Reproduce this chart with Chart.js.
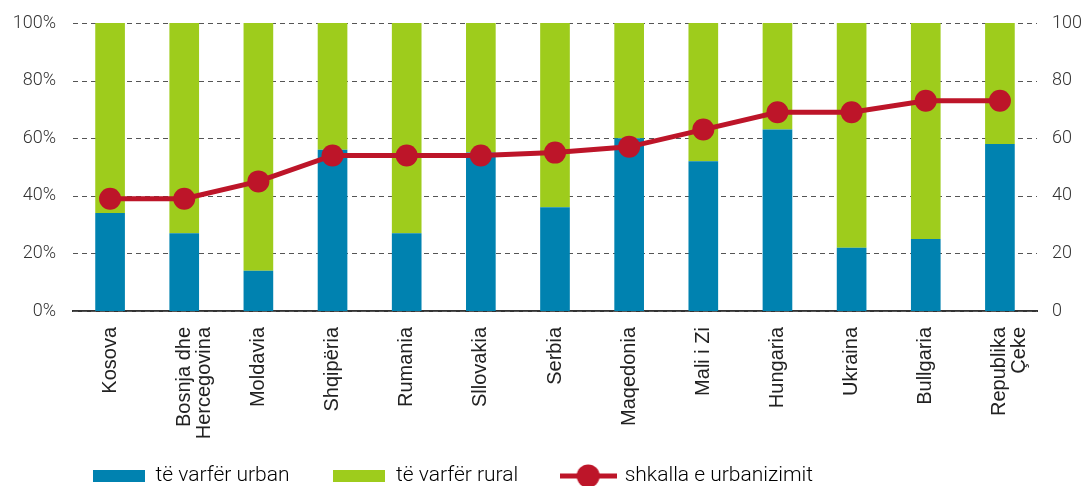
<!DOCTYPE html>
<html>
<head>
<meta charset="utf-8">
<script src="https://cdn.jsdelivr.net/npm/chart.js@4.4.0/dist/chart.umd.min.js"></script>
<style>
  html, body { margin: 0; padding: 0; background: #fff; }
  #wrap { width: 1084px; height: 486px; position: relative; }
</style>
</head>
<body>
<div id="wrap"><canvas id="chart"></canvas></div>
<script>
// countries (x axis), multi-line where the reference wraps
var countries = ["Kosova", ["Bosnja dhe", "Hercegovina"], "Moldavia", "Shqipëria", "Rumania", "Sllovakia",
  "Serbia", "Maqedonia", "Mali i Zi", "Hungaria", "Ukraina", "Bullgaria", ["Republika", "Çeke"]];
// share of urban poor (%)
var urbanPoor = [34, 27, 14, 56, 27, 55, 36, 60, 52, 63, 22, 25, 58];
// share of rural poor (%), the rest up to 100
var ruralPoor = [66, 73, 86, 44, 73, 45, 64, 40, 48, 37, 78, 75, 42];
// urbanisation rate (right axis)
var urbanRate = [39, 39, 45, 54, 54, 54, 55, 57, 63, 69, 69, 73, 73];
// tick labels
var leftTicks = ["0%", "20%", "40%", "60%", "80%", "100%"];
var rightTicks = ["0", "20", "40", "60", "80", "100"];

var blue = "#0082B0";
var green = "#9ECC1C";
var red = "#BD1529";

//small canvases used as legend symbols
function boxSymbol(color){
    var c = document.createElement("canvas");
    c.width = 52; c.height = 12;
    var ctx = c.getContext("2d");
    ctx.fillStyle = color;
    ctx.fillRect(0, 0, 52, 12);
    return c;
}
function lineSymbol(color){
    var c = document.createElement("canvas");
    c.width = 57; c.height = 24;
    var ctx = c.getContext("2d");
    ctx.strokeStyle = color;
    ctx.lineWidth = 5;
    ctx.beginPath();
    ctx.moveTo(0, 12); ctx.lineTo(57, 12);
    ctx.stroke();
    ctx.fillStyle = color;
    ctx.beginPath();
    ctx.arc(28.5, 12, 11.5, 0, Math.PI * 2);
    ctx.fill();
    return c;
}

//moves the legend to where the reference has it
var legendPlace = {
    id: "legendPlace",
    afterLayout: function(chart){
        var lg = chart.legend;
        if(lg){
            lg.left = 49;
            lg.top = 421.5;
        }
    }
};

//dashed horizontal grid at the left axis ticks
var dashedGrid = {
    id: "dashedGrid",
    beforeDatasetsDraw: function(chart){
        var ctx = chart.ctx;
        var area = chart.chartArea;
        var y = chart.scales.y;
        ctx.save();
        ctx.strokeStyle = "#555";
        ctx.lineWidth = 1;
        ctx.setLineDash([5, 4]);
        y.ticks.forEach(function(t){
            var py = Math.round(y.getPixelForValue(t.value)) + 0.5;
            ctx.beginPath();
            ctx.moveTo(area.left, py);
            ctx.lineTo(area.right, py);
            ctx.stroke();
        });
        ctx.restore();
    }
};

var tickFont = { family: "Roboto", size: 18, weight: 300 };

new Chart(document.getElementById("chart"), {
    type: "bar",
    data: {
        labels: countries,
        datasets: [
            {
                type: "line",
                label: "shkalla e urbanizimit",
                data: urbanRate,
                yAxisID: "y1",
                borderColor: red,
                backgroundColor: red,
                borderWidth: 5,
                pointRadius: 11,
                pointHoverRadius: 11,
                pointBackgroundColor: red,
                pointBorderWidth: 0,
                order: 0
            },
            {
                label: "të varfër urban",
                data: urbanPoor,
                backgroundColor: blue,
                yAxisID: "y",
                order: 1
            },
            {
                label: "të varfër rural",
                data: ruralPoor,
                backgroundColor: green,
                yAxisID: "y",
                order: 1
            }
        ]
    },
    options: {
        responsive: true,
        maintainAspectRatio: false,
        animation: false,
        layout: { autoPadding: false, padding: { top: 23, left: 0, right: 0, bottom: 0 } },
        datasets: { bar: { categoryPercentage: 1.0, barPercentage: 0.4 } },
        plugins: {
            tooltip: { enabled: false },
            legend: {
                position: "bottom",
                align: "start",
                maxHeight: 30,
                labels: {
                    usePointStyle: true,
                    pointStyleWidth: 52,
                    boxHeight: 12,
                    padding: 44,
                    color: "#333",
                    font: { family: "Roboto", size: 21, weight: 300 },
                    generateLabels: function(chart){
                        return [
                            { text: "të varfër urban", pointStyle: boxSymbol(blue), fillStyle: blue, strokeStyle: blue, lineWidth: 0, datasetIndex: 1, hidden: false },
                            { text: "të varfër rural", pointStyle: boxSymbol(green), fillStyle: green, strokeStyle: green, lineWidth: 0, datasetIndex: 2, hidden: false },
                            { text: "shkalla e urbanizimit", pointStyle: lineSymbol(red), fillStyle: red, strokeStyle: red, lineWidth: 0, datasetIndex: 0, hidden: false }
                        ];
                    }
                }
            }
        },
        scales: {
            x: {
                stacked: true,
                grid: { display: false, drawTicks: true, tickLength: 16, tickColor: "rgba(0,0,0,0)" },
                border: { display: true, color: "#333", width: 2 },
                ticks: {
                    autoSkip: false,
                    minRotation: 90,
                    maxRotation: 90,
                    padding: 0,
                    color: "#222",
                    font: { family: "Liberation Sans", size: 20, lineHeight: 1.0 }
                },
                afterFit: function(scale){
                    var lg = scale.chart.legend;
                    scale.height = 486 - 311 - (lg ? lg.height : 0);
                }
            },
            y: {
                stacked: true,
                position: "left",
                min: 0,
                max: 100,
                grid: { display: false, drawTicks: true, tickLength: 17, tickColor: "rgba(0,0,0,0)" },
                border: { display: false },
                ticks: {
                    stepSize: 20,
                    padding: 0,
                    color: "#333",
                    font: tickFont,
                    callback: function(v){ return leftTicks[v / 20]; }
                },
                afterFit: function(scale){ scale.width = 73; }
            },
            y1: {
                position: "right",
                min: 0,
                max: 100,
                grid: { display: false, drawTicks: true, tickLength: 15, tickColor: "rgba(0,0,0,0)" },
                border: { display: false },
                ticks: {
                    stepSize: 20,
                    padding: 0,
                    color: "#333",
                    font: tickFont,
                    callback: function(v){ return rightTicks[v / 20]; }
                },
                afterFit: function(scale){ scale.width = 47; }
            }
        }
    },
    plugins: [legendPlace, dashedGrid]
});
</script>
</body>
</html>
